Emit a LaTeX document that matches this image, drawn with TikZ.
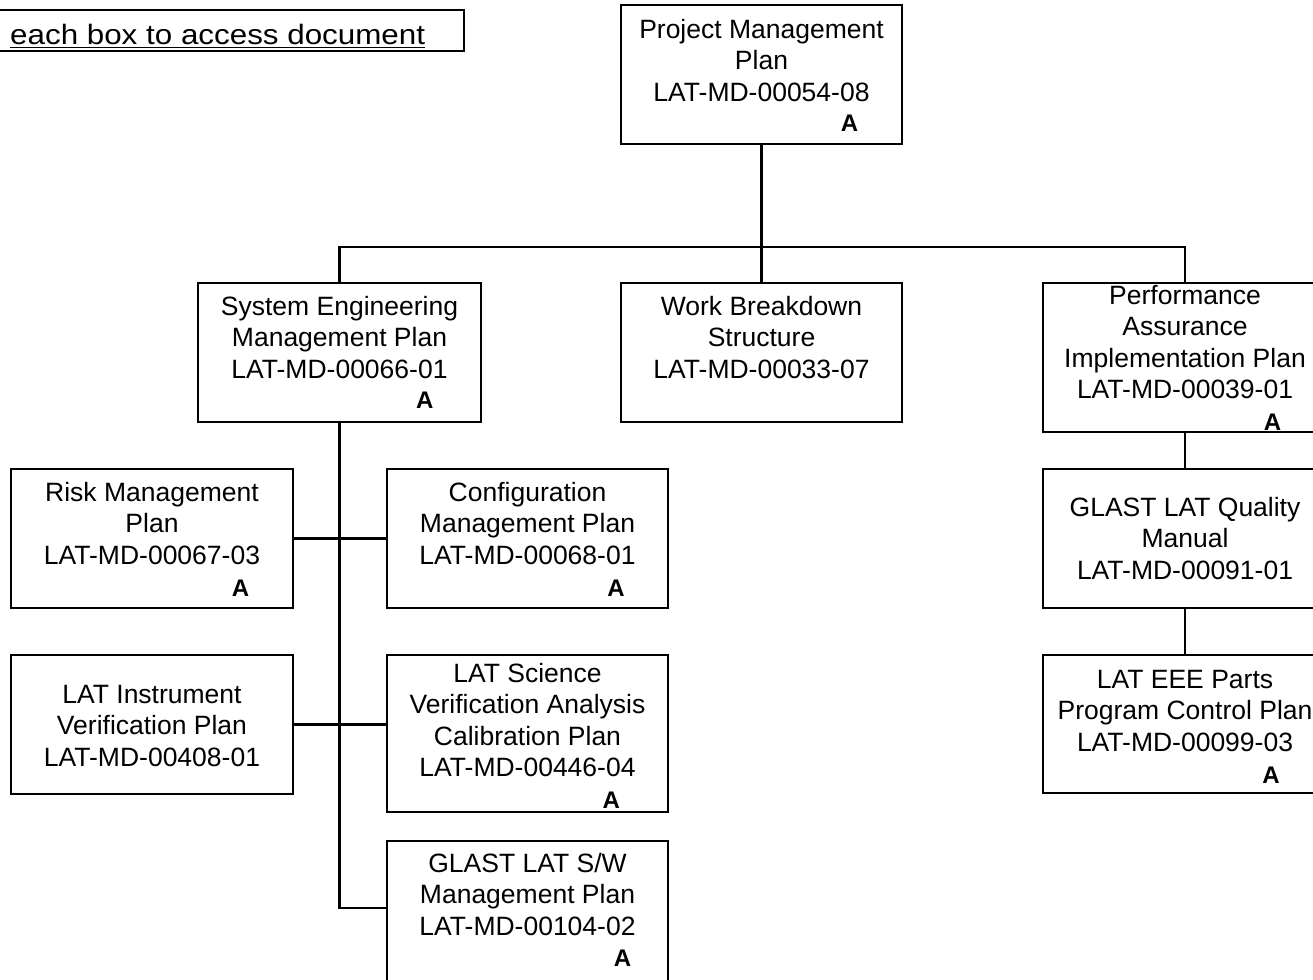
\documentclass[tikz,border=0pt]{standalone}
\usepackage{fontspec}
\setmainfont{Liberation Sans}
\newfontfamily\bannerfont[FakeStretch=1.12]{Liberation Sans}
\begin{document}
\begin{tikzpicture}[x=1pt,y=-1pt,
  box/.style={draw, line width=2.4pt, rectangle, inner sep=0pt},
  txt/.style={font=\fontsize{26.5}{31.5}\selectfont, align=center, inner sep=0pt, anchor=north},
  amark/.style={font=\fontsize{24}{27}\selectfont\bfseries, inner sep=0pt, anchor=north},
  conn/.style={line width=2.4pt}]
\useasboundingbox (0,0) rectangle (1313,979);

% banner
\node[box, minimum width=484pt, minimum height=41pt] (banner) at (222,30.5) {};
\node[font=\bannerfont\fontsize{28}{32}\selectfont, inner sep=0pt, anchor=base west] (bt) at (10,44.3) {each box to access document};
\draw[line width=1.6pt] ([yshift=-3.4pt]bt.base west) -- ([yshift=-3.4pt]bt.base east);

% boxes
\node[box, minimum width=281pt, minimum height=139pt] (pmp) at (761.5,74.5) {};
\node[txt] (pmpt) at (761.5,19) {Project Management\\Plan\\LAT-MD-00054-08};
\node[amark] (pmpa) at (849.5,115) {A};

\node[box, minimum width=283pt, minimum height=139pt] (semp) at (339.5,352.5) {};
\node[txt] (sempt) at (339.5,296) {System Engineering\\Management Plan\\LAT-MD-00066-01};
\node[amark] (sempa) at (424.7,392) {A};

\node[box, minimum width=281pt, minimum height=139pt] (wbs) at (761.5,352.5) {};
\node[txt] (wbst) at (761.5,296) {Work Breakdown\\Structure\\LAT-MD-00033-07};

\node[box, minimum width=284pt, minimum height=149pt] (paip) at (1185,357.5) {};
\node[txt] (paipt) at (1185,285) {Performance\\Assurance\\Implementation Plan\\LAT-MD-00039-01};
\node[amark] (paipa) at (1272.5,414) {A};

\node[box, minimum width=282pt, minimum height=139pt] (risk) at (152,538.5) {};
\node[txt] (riskt) at (152,482) {Risk Management\\Plan\\LAT-MD-00067-03};
\node[amark] (riska) at (240.5,580) {A};

\node[box, minimum width=281pt, minimum height=139pt] (config) at (527.5,538.5) {};
\node[txt] (configt) at (527.5,482) {Configuration\\Management Plan\\LAT-MD-00068-01};
\node[amark] (configa) at (616,580) {A};

\node[box, minimum width=282pt, minimum height=139pt] (linst) at (152,724.5) {};
\node[txt] (linstt) at (152,685) {LAT Instrument\\Verification Plan\\LAT-MD-00408-01};

\node[box, minimum width=281pt, minimum height=157pt] (lsvacp) at (527.5,733.5) {};
\node[txt] (lsvacpt) at (527.5,663) {LAT Science\\Verification Analysis\\Calibration Plan\\LAT-MD-00446-04};
\node[amark] (lsvacpa) at (611.3,792) {A};

\node[box, minimum width=281pt, minimum height=149pt] (sw) at (527.5,915.5) {};
\node[txt] (swt) at (527.5,853) {GLAST LAT S/W\\Management Plan\\LAT-MD-00104-02};
\node[amark] (swa) at (622.5,950) {A};

\node[box, minimum width=284pt, minimum height=139pt] (quality) at (1185,538.5) {};
\node[txt] (qualityt) at (1185,497) {GLAST LAT Quality\\Manual\\LAT-MD-00091-01};

\node[box, minimum width=284pt, minimum height=138pt] (eee) at (1185,724) {};
\node[txt] (eeet) at (1185,670) {LAT EEE Parts\\Program Control Plan\\LAT-MD-00099-03};
\node[amark] (eeea) at (1271,767) {A};

% connectors
\coordinate (bus) at (761.5,247);
\coordinate (swj) at (339.5,908);
\draw[conn] (pmp.south) -- (pmp.south |- bus);
\draw[conn] (semp.north) |- (bus) -| (paip.north);
\draw[conn] (wbs.north) -- (wbs.north |- bus);
\draw[conn] (semp.south) |- (sw.west |- swj);
\draw[conn] (risk.east) -- (config.west);
\draw[conn] (linst.east) -- (linst.east -| lsvacp.west);
\draw[conn] (paip.south) -- (quality.north);
\draw[conn] (quality.south) -- (eee.north);
\end{tikzpicture}
\end{document}
